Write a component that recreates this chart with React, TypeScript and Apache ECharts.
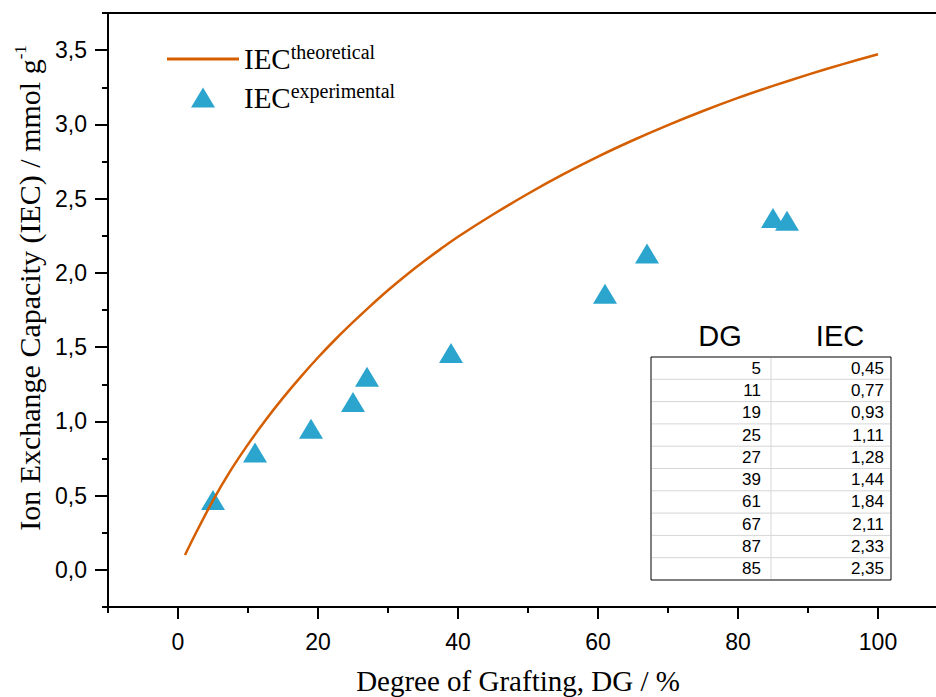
import { useEffect, useRef } from 'react';
import * as echarts from 'echarts';

// Experimental data (also shown in the table)
const dgValues = [5, 11, 19, 25, 27, 39, 61, 67, 87, 85];
const iecValues = [0.45, 0.77, 0.93, 1.11, 1.28, 1.44, 1.84, 2.11, 2.33, 2.35];

// Theoretical curve
const theoDG = [1, 2.5, 5, 7.5, 10, 12.5, 15, 17.5, 20, 22.5, 25, 27.5, 30, 32.5, 35, 37.5, 40, 45, 50, 55, 60, 65, 70, 75, 80, 85, 90, 95, 100];
const theoIEC = [0.100, 0.243, 0.468, 0.668, 0.845, 1.008, 1.158, 1.298, 1.430, 1.553, 1.668, 1.778, 1.883, 1.981, 2.073, 2.160, 2.243, 2.393, 2.533, 2.663, 2.783, 2.893, 2.995, 3.090, 3.178, 3.259, 3.335, 3.406, 3.472];

const xMajorTicks = [0, 20, 40, 60, 80, 100];
const xMinorTicks = [-10, 10, 30, 50, 70, 90, 110];
const yMajorTicks = [0, 0.5, 1, 1.5, 2, 2.5, 3, 3.5];
const yMinorTicks = [-0.25, 0.25, 0.75, 1.25, 1.75, 2.25, 2.75, 3.25, 3.75];

const tableHeaders = ['DG', 'IEC'];

const SERIF = '"Liberation Serif", "Times New Roman", serif';
const SANS = '"Liberation Sans", Arial, sans-serif';
const LINE_COLOR = '#d55e00';
const TRI_COLOR = '#2ba5cd';

const comma = (v: number, d: number) => v.toFixed(d).replace('.', ',');

function buildTable() {
  const left = 651;
  const top = 357;
  const width = 240;
  const rowH = 22.3;
  const colX = 771;
  const els: any[] = [];
  els.push({
    type: 'rect',
    shape: { x: left, y: top, width, height: rowH * dgValues.length },
    style: { fill: '#fff', stroke: '#000', lineWidth: 1 },
    z: 10,
  });
  for (let i = 1; i < dgValues.length; i++) {
    els.push({
      type: 'line',
      shape: { x1: left + 1, y1: top + rowH * i, x2: left + width - 1, y2: top + rowH * i },
      style: { stroke: '#d6d6d6', lineWidth: 1 },
      z: 11,
    });
  }
  els.push({
    type: 'line',
    shape: { x1: colX, y1: top + 1, x2: colX, y2: top + rowH * dgValues.length - 1 },
    style: { stroke: '#d6d6d6', lineWidth: 1 },
    z: 11,
  });
  dgValues.forEach((dg, i) => {
    const cy = top + rowH * (i + 0.5);
    els.push({
      type: 'text',
      x: 761,
      y: cy,
      style: { text: String(dg), fill: '#000', font: `17px ${SANS}`, align: 'right', verticalAlign: 'middle' },
      z: 12,
    });
    els.push({
      type: 'text',
      x: 884,
      y: cy,
      style: { text: comma(iecValues[i], 2), fill: '#000', font: `17px ${SANS}`, align: 'right', verticalAlign: 'middle' },
      z: 12,
    });
  });
  els.push({
    type: 'text',
    x: 720,
    y: 336,
    style: { text: tableHeaders[0], fill: '#000', font: `29px ${SANS}`, align: 'center', verticalAlign: 'middle' },
    z: 12,
  });
  els.push({
    type: 'text',
    x: 840,
    y: 336,
    style: { text: tableHeaders[1], fill: '#000', font: `29px ${SANS}`, align: 'center', verticalAlign: 'middle' },
    z: 12,
  });
  return els;
}

export default function App() {
  const ref = useRef<HTMLDivElement>(null);

  useEffect(() => {
    document.body.style.margin = '0';
    if (!ref.current) return;
    const chart = echarts.init(ref.current, null, { renderer: 'svg' });

    const axisLine = { show: true, onZero: false, lineStyle: { color: '#000', width: 2 } };
    const richMain = { fontFamily: SERIF, fontSize: 29, lineHeight: 34, color: '#000' };
    const richSup = { fontFamily: SERIF, fontSize: 20, lineHeight: 16, verticalAlign: 'top', color: '#000' };

    const option: any = {
      animation: false,
      backgroundColor: '#fff',
      grid: { left: 108, width: 840, top: 13, bottom: 90, containLabel: false, outerBoundsMode: 'none' },
      legend: {
        orient: 'vertical',
        left: 167,
        top: 42,
        padding: 0,
        itemWidth: 72,
        itemHeight: 20,
        itemGap: 7,
        selectedMode: false,
        symbolKeepAspect: true,
        data: [
          { name: 'theoretical', icon: 'path://M0,0H24V1H0Z' },
          { name: 'experimental', icon: 'path://M12,0L24,20L0,20Z' },
        ],
        formatter: (name: string) => `{a|IEC}{s|${name}}`,
        textStyle: { rich: { a: richMain, s: richSup } },
      },
      xAxis: [
        {
          type: 'value',
          min: -10,
          max: 110,
          position: 'bottom',
          axisLine,
          axisTick: { show: true, length: 12, customValues: xMajorTicks, lineStyle: { color: '#000', width: 2 } },
          axisLabel: { customValues: xMajorTicks, margin: 23, color: '#000', fontSize: 23, fontFamily: SANS },
          splitLine: { show: false },
          name: 'Degree of Grafting, DG / %',
          nameLocation: 'middle',
          nameGap: 57,
          nameTextStyle: { fontFamily: SERIF, fontSize: 29, lineHeight: 34, color: '#000', padding: [0, 20, 0, 0] },
        },
        {
          type: 'value',
          min: -10,
          max: 110,
          position: 'bottom',
          axisLine: { show: false, onZero: false },
          axisTick: { show: true, length: 6, customValues: xMinorTicks, lineStyle: { color: '#000', width: 2 } },
          axisLabel: { show: false },
          splitLine: { show: false },
        },
        {
          type: 'value',
          min: -10,
          max: 110,
          position: 'top',
          axisLine,
          axisTick: { show: false },
          axisLabel: { show: false },
          splitLine: { show: false },
        },
      ],
      yAxis: [
        {
          type: 'value',
          min: -0.25,
          max: 3.75,
          position: 'left',
          axisLine,
          axisTick: { show: true, length: 13, customValues: yMajorTicks, lineStyle: { color: '#000', width: 2 } },
          axisLabel: {
            customValues: yMajorTicks,
            margin: 21,
            color: '#000',
            fontSize: 23,
            fontFamily: SANS,
            formatter: (v: number) => comma(v, 1),
          },
          splitLine: { show: false },
          name: '{a|Ion Exchange Capacity (IEC) / mmol g}{s|-1}',
          nameLocation: 'middle',
          nameRotate: 90,
          nameGap: 58,
          nameTextStyle: {
            padding: [0, 0, 0, 44],
            rich: { a: { ...richMain, fontSize: 30 }, s: { ...richSup, fontSize: 17, lineHeight: 14 } },
          },
        },
        {
          type: 'value',
          min: -0.25,
          max: 3.75,
          position: 'left',
          axisLine: { show: false, onZero: false },
          axisTick: { show: true, length: 6, customValues: yMinorTicks, lineStyle: { color: '#000', width: 2 } },
          axisLabel: { show: false },
          splitLine: { show: false },
        },
      ],
      series: [
        {
          name: 'experimental',
          type: 'scatter',
          xAxisIndex: 0,
          yAxisIndex: 0,
          symbol: 'triangle',
          symbolSize: [24, 20],
          symbolOffset: [0, -3],
          itemStyle: { color: TRI_COLOR, opacity: 1 },
          data: dgValues.map((d, i) => [d, iecValues[i]]),
          z: 2,
        },
        {
          name: 'theoretical',
          type: 'line',
          xAxisIndex: 0,
          yAxisIndex: 0,
          symbol: 'none',
          showSymbol: false,
          smooth: 0.3,
          lineStyle: { color: LINE_COLOR, width: 2.5 },
          itemStyle: { color: LINE_COLOR },
          data: theoDG.map((d, i) => [d, theoIEC[i]]),
          z: 3,
        },
      ],
      graphic: buildTable(),
    };

    chart.setOption(option);
    return () => chart.dispose();
  }, []);

  return <div ref={ref} style={{ width: 936, height: 697, position: 'fixed', left: 0, top: 0 }} />;
}
